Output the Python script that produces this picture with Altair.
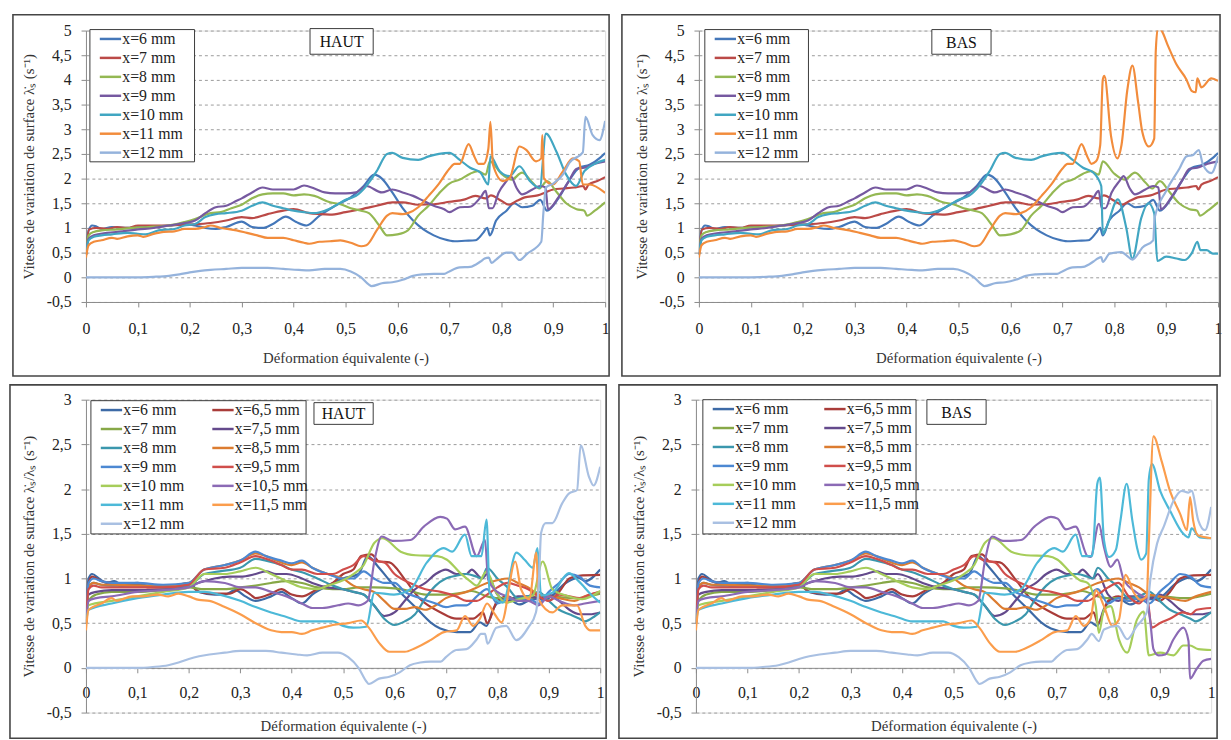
import altair as alt
import pandas as pd

# ---------------- axis ticks ----------------
XTICKS = [0, 0.1, 0.2, 0.3, 0.4, 0.5, 0.6, 0.7, 0.8, 0.9, 1]
YTICKS_TOP = [-0.5, 0, 0.5, 1, 1.5, 2, 2.5, 3, 3.5, 4, 4.5, 5]
YTICKS_BOT = [-0.5, 0, 0.5, 1, 1.5, 2, 2.5, 3]

# ---------------- series names / colours ----------------
TOP_NAMES = ["x=6 mm", "x=7 mm", "x=8 mm", "x=9 mm", "x=10 mm", "x=11 mm", "x=12 mm"]
TOP_COLORS = ["#4477b9", "#bb4a47", "#94b853", "#7659a0", "#41a6c2", "#f28c3c", "#95b3dc"]
BOT_NAMES = ["x=6 mm", "x=6,5 mm", "x=7 mm", "x=7,5 mm", "x=8 mm", "x=8,5 mm", "x=9 mm",
             "x=9,5 mm", "x=10 mm", "x=10,5 mm", "x=11 mm", "x=11,5 mm", "x=12 mm"]
BOT_COLORS = ["#3d6aa6", "#a93c39", "#87a847", "#644a8c", "#3b97ad", "#dc7c30", "#4c88d2",
              "#d04e4b", "#a6cd5a", "#8b6ab5", "#4db9d8", "#fb9d4c", "#a9c0e2"]

# ---------------- top panels (lambda_s rate) : [deformation, value] ----------------
T6 = [[0, .45], [.005, .95], [.012, 1.05], [.02, 1.03], [.03, .98], [.05, 1.02], [.08, 1.0], [.1, 1.02],
      [.13, 1.03], [.16, 1.05], [.19, 1.08], [.21, 1.05], [.23, 1.0], [.25, .98], [.27, 1.02], [.3, 1.13],
      [.32, 1.02], [.34, 1.0], [.36, 1.08], [.385, 1.23], [.405, 1.12], [.425, 1.05], [.45, 1.25],
      [.48, 1.45], [.51, 1.62], [.535, 1.85], [.555, 2.08], [.57, 2.0], [.59, 1.72], [.61, 1.4], [.63, 1.15],
      [.65, .97], [.67, .85], [.69, .77], [.71, .73], [.73, .74], [.75, .75], [.765, .9], [.773, 1.0],
      [.778, .85], [.79, 1.15], [.81, 1.35], [.825, 1.5], [.84, 1.42], [.86, 1.45], [.875, 1.57],
      [.888, 1.35], [.91, 1.6], [.93, 1.95], [.95, 2.22], [.97, 2.28], [.99, 2.42], [1.0, 2.52]]
T7 = [[0, .45], [.006, .97], [.02, 1.0], [.04, .98], [.06, 1.02], [.08, 1.0], [.1, 1.05], [.15, 1.05],
      [.2, 1.07], [.24, 1.1], [.27, 1.15], [.3, 1.22], [.32, 1.2], [.35, 1.28], [.38, 1.35], [.4, 1.38],
      [.43, 1.3], [.45, 1.28], [.47, 1.27], [.5, 1.32], [.53, 1.38], [.56, 1.45], [.59, 1.52], [.61, 1.52],
      [.64, 1.47], [.67, 1.48], [.7, 1.53], [.73, 1.58], [.75, 1.65], [.77, 1.6], [.78, 1.66], [.8, 1.55],
      [.815, 1.47], [.83, 1.55], [.845, 1.62], [.87, 1.66], [.885, 1.72], [.9, 1.78], [.92, 1.8],
      [.94, 1.82], [.958, 1.85], [.962, 1.78], [.968, 1.88], [.985, 1.95], [1.0, 2.03]]
T8 = [[0, .45], [.005, .85], [.015, .92], [.03, .95], [.06, .97], [.09, 1.0], [.12, 1.02], [.16, 1.05],
      [.19, 1.12], [.21, 1.18], [.24, 1.3], [.26, 1.32], [.28, 1.4], [.3, 1.47], [.32, 1.6], [.34, 1.68],
      [.36, 1.7], [.38, 1.7], [.4, 1.66], [.42, 1.68], [.44, 1.65], [.47, 1.52], [.49, 1.48], [.51, 1.4],
      [.53, 1.35], [.545, 1.3], [.565, 1.05], [.58, .85], [.6, .87], [.62, .95], [.64, 1.25], [.66, 1.45],
      [.68, 1.7], [.7, 1.9], [.72, 1.98], [.74, 2.1], [.755, 2.15], [.77, 2.08], [.778, 2.35], [.8, 2.1],
      [.82, 1.98], [.84, 2.12], [.86, 1.92], [.873, 1.8], [.888, 1.95], [.905, 1.75], [.925, 1.5],
      [.945, 1.38], [.96, 1.35], [.965, 1.25], [.98, 1.35], [1.0, 1.52]]
T9 = [[0, .45], [.005, .78], [.015, .85], [.04, .9], [.07, .93], [.1, .97], [.13, 1.0], [.16, 1.05],
      [.19, 1.1], [.21, 1.15], [.23, 1.3], [.25, 1.42], [.27, 1.45], [.29, 1.55], [.3, 1.6], [.32, 1.72],
      [.34, 1.82], [.36, 1.78], [.38, 1.78], [.4, 1.78], [.42, 1.86], [.44, 1.8], [.46, 1.72], [.48, 1.7],
      [.5, 1.7], [.52, 1.72], [.54, 1.85], [.57, 1.72], [.59, 1.78], [.61, 1.72], [.63, 1.65], [.65, 1.55],
      [.67, 1.45], [.69, 1.38], [.7, 1.32], [.72, 1.42], [.74, 1.43], [.76, 1.62], [.77, 1.75], [.776, 1.4],
      [.783, 1.4], [.795, 1.72], [.81, 1.95], [.818, 2.05], [.83, 1.8], [.84, 1.68], [.86, 1.78],
      [.875, 1.85], [.885, 1.82], [.89, 1.38], [.91, 1.62], [.93, 1.95], [.945, 2.2], [.96, 2.22],
      [.98, 2.3], [1.0, 2.35]]
T10 = [[0, .45], [.005, .75], [.015, .82], [.03, .85], [.05, .87], [.08, .9], [.1, .88], [.115, .87],
       [.14, .95], [.17, .98], [.19, 1.05], [.21, 1.08], [.23, 1.22], [.25, 1.28], [.27, 1.3], [.3, 1.35],
       [.32, 1.45], [.34, 1.52], [.36, 1.45], [.38, 1.4], [.4, 1.35], [.42, 1.32], [.44, 1.3], [.46, 1.35],
       [.48, 1.45], [.5, 1.57], [.52, 1.65], [.54, 1.85], [.56, 2.15], [.58, 2.5], [.59, 2.52], [.61, 2.42],
       [.64, 2.38], [.66, 2.45], [.68, 2.5], [.7, 2.52], [.72, 2.38], [.74, 2.22], [.76, 2.12]]
T10_HAUT = [[.775, 1.88], [.779, 2.45], [.797, 2.15], [.816, 2.05], [.835, 2.25], [.855, 1.95],
            [.874, 1.81], [.886, 2.91], [.906, 2.55], [.925, 2.08], [.944, 1.85], [.96, 2.15],
            [.982, 2.31], [1.0, 2.38]]
T10_BAS = [[.775, 1.85], [.778, .88], [.785, 1.01], [.807, 1.58], [.823, 1.01], [.835, .38],
           [.852, 1.2], [.866, 1.5], [.877, 1.3], [.883, .33], [.9, .42], [.92, .38], [.935, .35],
           [.95, .5], [.96, .72], [.966, .55], [.978, .55], [.99, .48], [1.0, .48]]
T11 = [[0, .4], [.005, .65], [.015, .72], [.03, .75], [.05, .8], [.06, .78], [.08, .83], [.1, .85],
       [.11, .82], [.13, .88], [.15, .92], [.17, .93], [.19, .98], [.21, .98], [.23, 1.02], [.24, 1.05],
       [.26, 1.0], [.29, .95], [.31, .9], [.33, .85], [.35, .8], [.38, .8], [.4, .75], [.42, .7], [.43, .68],
       [.45, .72], [.47, .73], [.49, .75], [.51, .7], [.53, .63], [.54, .65], [.56, .95], [.58, 1.25],
       [.59, 1.3], [.61, 1.28], [.62, 1.3], [.64, 1.42], [.66, 1.65], [.68, 1.9], [.7, 2.2], [.71, 2.3],
       [.72, 2.3], [.737, 2.7], [.748, 2.45], [.756, 2.3]]
T11_HAUT = [[.766, 2.3], [.775, 2.6], [.779, 3.15], [.784, 2.28], [.803, 1.95], [.816, 2.01],
            [.835, 2.65], [.848, 2.58], [.867, 2.35], [.877, 2.41], [.879, 2.88], [.882, 2.01],
            [.899, 1.88], [.919, 2.15], [.938, 2.41], [.95, 2.35], [.957, 1.88], [.97, 1.88], [1.0, 1.71]]
T11_BAS = [[.765, 2.35], [.773, 2.68], [.778, 4.01], [.781, 4.08], [.794, 2.85], [.806, 2.41],
           [.814, 2.68], [.825, 3.78], [.835, 4.29], [.846, 3.55], [.854, 2.95], [.867, 2.65],
           [.877, 2.81], [.88, 4.58], [.884, 5.05], [.891, 5.0], [.904, 4.68], [.92, 4.31], [.939, 4.01],
           [.949, 3.78], [.957, 3.75], [.96, 4.03], [.968, 3.85], [.987, 4.03], [1.0, 3.98]]
T12 = [[0, 0], [.1, 0], [.13, .01], [.16, .03], [.18, .06], [.2, .1], [.22, .13], [.24, .15], [.27, .17],
       [.3, .19], [.35, .19], [.38, .17], [.41, .15], [.43, .14], [.46, .17], [.49, .17], [.51, .12],
       [.53, 0], [.545, -.15], [.55, -.18], [.57, -.12], [.59, -.1], [.61, -.05], [.63, .03], [.65, .06],
       [.67, .07], [.69, .07], [.7, .12], [.72, .2], [.74, .21], [.76, .32], [.768, .38]]
T12_HAUT = [[.776, .4], [.781, .29], [.79, .36], [.81, .5], [.82, .5], [.835, .35], [.85, .48],
            [.877, .72], [.881, 1.3], [.886, 1.82], [.9, 1.9], [.92, 2.1], [.931, 2.32], [.957, 2.53],
            [.962, 3.25], [.976, 2.88], [.989, 2.78], [1.0, 3.17]]
T12_BAS = [[.775, .41], [.778, .31], [.791, .48], [.814, .51], [.823, .45], [.835, .36], [.855, .61],
           [.875, .75], [.878, 1.21], [.9, 1.75], [.926, 2.21], [.939, 2.45], [.952, 2.48], [.963, 2.58],
           [.971, 2.28], [.987, 2.11], [1.0, 2.45]]

# ---------------- bottom panels (normalised rate) ----------------
B6 = [[0, .5], [.005, 1.0], [.012, 1.05], [.025, 1.0], [.04, .95], [.055, .97], [.07, .93], [.1, .95],
      [.12, .92], [.15, .92], [.18, .93], [.2, .95], [.22, .85], [.25, .82], [.27, .82], [.29, .87],
      [.31, .8], [.33, .75], [.36, .8], [.38, .85], [.4, .78], [.42, .72], [.44, .82], [.47, .92], [.5, 1.0],
      [.53, 1.05], [.548, 1.25], [.567, 1.14], [.59, .98], [.612, .84], [.644, .66], [.67, .51], [.689, .44],
      [.721, .4], [.747, .4], [.766, .51], [.779, .47], [.792, .66], [.817, .79], [.843, .71], [.869, .77],
      [.894, .77], [.933, .95], [.958, 1.01], [.971, .97], [1.0, 1.1]]
B65 = [[0, .5], [.005, .95], [.012, 1.02], [.03, .97], [.05, .95], [.07, .92], [.1, .93], [.12, .9],
       [.15, .9], [.18, .92], [.2, .93], [.22, .85], [.25, .83], [.28, .83], [.3, .88], [.32, .82], [.33, .78],
       [.36, .83], [.38, .88], [.4, .82], [.42, .8], [.45, .88], [.48, .95], [.5, 1.05], [.52, 1.1],
       [.535, 1.25], [.555, 1.27], [.57, 1.19], [.59, 1.18], [.62, .99], [.65, .77], [.69, .62], [.72, .55],
       [.753, .55], [.772, .62], [.78, .5], [.8, .75], [.82, .8], [.84, .75], [.86, .78], [.88, .8], [.9, .75],
       [.92, .85], [.94, 1.0], [.958, 1.03], [1.0, 1.04]]
B7 = [[0, .5], [.005, .75], [.02, .82], [.05, .85], [.1, .85], [.15, .87], [.2, .9], [.23, .88], [.27, .88],
      [.3, .9], [.33, .92], [.36, .95], [.39, .97], [.42, .95], [.45, .9], [.48, .88], [.5, .88], [.53, .9],
      [.56, .9], [.6, .89], [.63, .86], [.66, .82], [.7, .82], [.73, .84], [.75, .86], [.78, .8], [.8, .78],
      [.85, .78], [.9, .8], [.95, .78], [1.0, .83]]
B75 = [[0, .5], [.005, .82], [.02, .85], [.05, .87], [.1, .87], [.15, .88], [.2, .92], [.23, .97],
       [.25, 1.0], [.28, 1.02], [.3, 1.02], [.33, 1.05], [.35, 1.08], [.37, 1.05], [.39, 1.05], [.42, 1.0],
       [.44, .95], [.47, .9], [.5, .88], [.52, .85], [.54, .82], [.56, .7], [.58, .58], [.6, .62], [.62, .75],
       [.64, .88], [.66, .95], [.68, 1.05], [.7, 1.1], [.72, 1.05], [.74, 1.05], [.75, 1.1], [.77, 1.0],
       [.78, 1.05], [.8, .82], [.82, .75], [.84, .8], [.86, .8], [.88, .78], [.9, .82], [.92, .75],
       [.94, .65], [.96, .6], [.98, .6], [1.0, .62]]
B8 = [[0, .5], [.005, .9], [.015, .95], [.03, .93], [.05, .92], [.1, .92], [.15, .9], [.2, .92],
      [.23, 1.05], [.26, 1.08], [.3, 1.12], [.33, 1.22], [.35, 1.2], [.38, 1.15], [.4, 1.1], [.42, 1.07],
      [.45, 1.0], [.48, .92], [.5, .88], [.52, .85], [.54, .82], [.56, .7], [.58, .55], [.6, .48], [.62, .52],
      [.64, .6], [.66, .78], [.68, .92], [.7, 1.0], [.72, 1.03], [.74, 1.05], [.76, 1.02], [.77, 1.0],
      [.78, 1.12], [.8, 1.0], [.82, .9], [.84, .78], [.86, .8], [.88, .85], [.9, .75], [.92, .65],
      [.94, .6], [.96, .55], [.97, .52], [.99, .58], [1.0, .62]]
B85 = [[0, .5], [.005, .9], [.015, .95], [.03, .93], [.05, .93], [.1, .92], [.15, .92], [.2, .95],
       [.23, 1.1], [.27, 1.15], [.3, 1.2], [.33, 1.28], [.35, 1.25], [.37, 1.2], [.4, 1.15], [.42, 1.18],
       [.44, 1.12], [.47, 1.05], [.5, 1.0], [.52, .92], [.54, .88], [.56, .85], [.58, .75], [.6, .66],
       [.62, .66], [.64, .68], [.66, .65], [.68, .7], [.7, .78], [.72, .82], [.74, .85], [.76, .9],
       [.78, .95], [.8, .98], [.82, 1.0], [.84, .95], [.86, .9], [.88, .82], [.9, .8], [.92, .78],
       [.95, .75], [.97, .8], [1.0, .85]]
B9 = [[0, .5], [.005, .95], [.015, 1.0], [.03, .97], [.05, .95], [.1, .95], [.15, .93], [.2, .95],
      [.23, 1.1], [.27, 1.15], [.3, 1.2], [.33, 1.3], [.35, 1.25], [.38, 1.2], [.4, 1.17], [.42, 1.2],
      [.44, 1.12], [.47, 1.05], [.5, 1.0], [.52, 1.0], [.54, 1.08], [.56, 1.0], [.58, .95], [.6, .95],
      [.62, .85], [.65, .78], [.68, .72], [.7, .68], [.72, .7], [.74, .7], [.76, .8], [.78, .88], [.8, .72],
      [.82, .78], [.84, .75], [.86, .78], [.88, .72], [.9, .85], [.92, .95], [.94, 1.05], [.96, 1.02],
      [.98, .92], [1.0, .9]]
B95 = [[0, .5], [.005, .88], [.015, .92], [.03, .9], [.05, .9], [.1, .9], [.15, .9], [.2, .93], [.23, 1.1],
       [.27, 1.12], [.3, 1.18], [.33, 1.25], [.35, 1.22], [.38, 1.15], [.4, 1.1], [.42, 1.1], [.45, 1.05],
       [.48, 1.05], [.5, 1.1], [.52, 1.15], [.54, 1.25], [.56, 1.2], [.58, 1.18], [.6, 1.05], [.63, .95],
       [.66, .88], [.69, .85], [.72, .8], [.74, .75], [.76, .75]]
B95_HAUT = [[.78, .82], [.8, .9], [.82, .95], [.84, .92], [.86, .88], [.88, .8], [.9, .75], [.92, .82],
            [.94, .8], [.96, .78], [.98, .82], [1.0, .85]]
B95_BAS = [[.78, .82], [.8, .9], [.82, .95], [.84, .8], [.86, .72], [.875, .8], [.885, .45], [.9, .5],
           [.92, .55], [.945, .62], [.96, .6], [.972, .65], [1.0, .67]]
B10 = [[0, .5], [.005, .7], [.05, .75], [.1, .8], [.15, .85], [.2, .9], [.23, 1.05], [.27, 1.05],
       [.3, 1.08], [.33, 1.12], [.36, 1.05], [.39, .97], [.42, .9], [.45, .88], [.47, .92], [.5, .98],
       [.52, 1.05], [.54, 1.15], [.561, 1.4], [.577, 1.45], [.612, 1.3], [.641, 1.26], [.683, 1.25],
       [.702, 1.21], [.728, 1.06], [.745, .98]]
B10_HAUT = [[.76, .92], [.779, 1.08], [.798, .84], [.817, .73], [.843, .77], [.869, .81], [.888, 1.19],
            [.907, .88], [.933, .81], [.965, .77], [1.0, .86]]
B10_BAS = [[.76, .95], [.776, .69], [.782, .39], [.792, .65], [.805, .69], [.821, .32], [.837, .17],
           [.856, .54], [.869, .63], [.879, .14], [.901, .17], [.927, .14], [.946, .25], [.959, .25],
           [.975, .21], [1.0, .2]]
B105 = [[0, .5], [.005, .75], [.02, .78], [.05, .8], [.1, .85], [.15, .87], [.2, .9], [.23, .97],
        [.27, .95], [.3, .9], [.33, .9], [.36, .85], [.39, .8], [.42, .72], [.44, .67], [.46, .67],
        [.49, .7], [.51, .72], [.53, .7], [.548, .75], [.561, 1.2], [.575, 1.47], [.596, 1.42],
        [.631, 1.43], [.657, 1.58], [.689, 1.69], [.702, 1.67], [.718, 1.55], [.737, 1.58], [.76, 1.25]]
B105_HAUT = [[.776, 1.43], [.782, .99], [.8, .85], [.82, .8], [.84, .75], [.86, .75], [.88, .7],
             [.9, .8], [.92, .75], [.95, .7], [.97, .72], [1.0, .75]]
B105_BAS = [[.766, 1.24], [.782, 1.61], [.792, 1.35], [.805, 1.13], [.818, 1.21], [.83, .99],
            [.856, .84], [.875, .76], [.882, .51], [.888, .21], [.898, .14], [.911, .15], [.927, .32],
            [.946, .45], [.956, .3], [.959, -.12], [.972, -.01], [.985, .08], [1.0, .1]]
B11 = [[0, .5], [.005, .65], [.05, .72], [.1, .78], [.15, .82], [.2, .85], [.23, .85], [.26, .82],
       [.3, .75], [.33, .68], [.36, .62], [.39, .57], [.42, .52], [.45, .52], [.48, .52], [.5, .47],
       [.52, .45], [.545, .46], [.561, .84], [.599, .82], [.631, .88], [.663, 1.18], [.696, 1.34],
       [.712, 1.3], [.737, 1.49], [.75, 1.25], [.769, 1.25]]
B11_HAUT = [[.779, 1.66], [.785, .84], [.811, .73], [.837, 1.29], [.853, 1.21], [.869, 1.12],
            [.878, 1.34], [.885, .81], [.907, .84], [.939, 1.06], [.958, .97], [.984, .81], [1.0, .73]]
B11_BAS = [[.779, 2.06], [.784, 2.13], [.792, 1.43], [.802, 1.24], [.815, 1.32], [.824, 1.65],
           [.836, 2.06], [.847, 1.65], [.856, 1.35], [.864, 1.21], [.874, 1.28], [.879, 2.11],
           [.885, 2.28], [.901, 1.98], [.92, 1.76], [.946, 1.5], [.956, 1.46], [.962, 1.56],
           [.978, 1.46], [1.0, 1.45]]
B115 = [[0, .42], [.005, .65], [.03, .72], [.05, .78], [.06, .75], [.09, .8], [.11, .8], [.14, .82],
        [.16, .8], [.18, .83], [.2, .8], [.22, .76], [.24, .75], [.27, .68], [.3, .6], [.33, .5], [.36, .42],
        [.38, .4], [.4, .4], [.42, .38], [.44, .42], [.46, .45], [.48, .48], [.51, .5], [.535, .53],
        [.55, .45], [.57, .28], [.59, .18], [.62, .18], [.64, .22], [.67, .31], [.696, .4], [.721, .42],
        [.737, .58], [.753, .47], [.766, .55]]
B115_HAUT = [[.78, .72], [.795, .6], [.808, .51], [.835, 1.19], [.846, .88], [.862, .77], [.876, 1.29],
             [.88, .77], [.907, .62], [.926, .7], [.955, .7], [.971, .47], [.981, .42], [1.0, .42]]
B115_BAS = [[.776, .87], [.792, .69], [.808, .47], [.821, .54], [.834, 1.04], [.85, .84], [.863, .76],
            [.875, .8], [.879, 1.39], [.888, 2.59], [.904, 2.31], [.92, 1.98], [.94, 1.72], [.953, 1.54],
            [.959, 1.91], [.965, 1.65], [.975, 1.48], [1.0, 1.45]]
B12_HAUT = [[.776, .38], [.781, .27], [.798, .45], [.817, .47], [.837, .31], [.86, .45], [.875, .62],
            [.881, .99], [.885, 1.51], [.894, 1.62], [.907, 1.62], [.926, 1.84], [.939, 1.95],
            [.955, 1.99], [.962, 2.49], [.978, 2.14], [.987, 2.04], [1.0, 2.25]]
B12_BAS = [[.782, .3], [.792, .43], [.818, .47], [.837, .32], [.856, .47], [.875, .62], [.882, .99],
           [.895, 1.39], [.908, 1.58], [.927, 1.87], [.943, 1.98], [.956, 1.96], [.962, 1.98],
           [.975, 1.65], [.988, 1.54], [1.0, 1.8]]

TOP_YTITLE = "Vitesse de variation de surface  λ̇ₛ  (s⁻¹)"
BOT_YTITLE = "Vitesse de variation de surface  λ̇ₛ/λₛ  (s⁻¹)"
XTITLE = "Déformation équivalente (-)"

FONT = "Liberation Serif"
LABEL_EXPR = "replace(toString(datum.value), '.', ',')"

# legend of the lower panels is filled column by column: integers first, then halves
BOT_LEG_ORDER = BOT_NAMES[0::2] + BOT_NAMES[1::2]
BOT_LEG_COLORS = [dict(zip(BOT_NAMES, BOT_COLORS))[n] for n in BOT_LEG_ORDER]


def to_df(names, series):
    rows = []
    for name, pts in zip(names, series):
        for k, (x, y) in enumerate(pts):
            rows.append({"serie": name, "eps": x, "v": y, "k": k})
    return pd.DataFrame(rows)


top_haut = to_df(TOP_NAMES, [T6, T7, T8, T9, T10 + T10_HAUT, T11 + T11_HAUT, T12 + T12_HAUT])
top_bas = to_df(TOP_NAMES, [T6, T7, T8, T9, T10 + T10_BAS, T11 + T11_BAS, T12 + T12_BAS])
bot_haut = to_df(BOT_NAMES, [B6, B65, B7, B75, B8, B85, B9, B95 + B95_HAUT, B10 + B10_HAUT,
                             B105 + B105_HAUT, B11 + B11_HAUT, B115 + B115_HAUT, T12 + B12_HAUT])
bot_bas = to_df(BOT_NAMES, [B6, B65, B7, B75, B8, B85, B9, B95 + B95_BAS, B10 + B10_BAS,
                            B105 + B105_BAS, B11 + B11_BAS, B115 + B115_BAS, T12 + B12_BAS])

ONE = pd.DataFrame({"a": [0]})


def panel(df, names, colors, ydom, yticks, w, h, xoff, frame, legbox, ncols, colpad,
          label, labbox, ytitle, xlabpad, xtitley):
    xaxis = alt.Axis(values=XTICKS, labelExpr=LABEL_EXPR, grid=False, domainColor="#8a8a8a",
                     tickColor="#8a8a8a", tickSize=5, labelPadding=xlabpad, labelFontSize=16,
                     labelColor="#222222", labelFont=FONT, labelFlush=False, labelOverlap=False,
                     title=XTITLE, titleFont=FONT, titleFontSize=15, titleFontWeight="normal",
                     titleColor="#333333", titleY=xtitley, titleBaseline="middle", offset=xoff)
    yaxis = alt.Axis(values=yticks, labelExpr=LABEL_EXPR, grid=True, gridDash=[3, 3],
                     gridColor="#9a9a9a", domainColor="#8a8a8a", tickColor="#8a8a8a", tickSize=5,
                     labelPadding=10, labelFontSize=16, labelColor="#222222", labelFont=FONT,
                     labelOverlap=False, title=ytitle, titleFont=FONT, titleFontSize=15,
                     titleFontWeight="normal", titleColor="#333333", titleX=-58, titleY=h / 2,
                     titleAngle=270, titleAlign="center", titleBaseline="middle")
    legend = alt.Legend(title=None, orient="none", legendX=legbox[0] + 12.8, legendY=legbox[2] + 1.5,
                        direction="vertical", columns=ncols, columnPadding=colpad,
                        symbolType="M-1.6,0L1.6,0", symbolSize=182, symbolStrokeWidth=2.5,
                        labelFont=FONT, labelFontSize=16, labelColor="#222222", labelOffset=4,
                        rowPadding=3.2, padding=0, labelLimit=200)
    lines = alt.Chart(df).mark_line(strokeWidth=2.2, interpolate="monotone", clip=True).encode(
        x=alt.X("eps:Q", scale=alt.Scale(domain=[0, 1], nice=False, zero=False), axis=xaxis),
        y=alt.Y("v:Q", scale=alt.Scale(domain=ydom, nice=False, zero=False), axis=yaxis),
        color=alt.Color("serie:N", scale=alt.Scale(domain=names, range=colors), legend=legend,
                        sort=names),
        order=alt.Order("k:Q"),
    )
    frame_mark = alt.Chart(ONE).mark_rect(fillOpacity=0, stroke="#454545", strokeWidth=1.6).encode(
        x=alt.value(frame[0]), x2=alt.value(frame[1]), y=alt.value(frame[2]), y2=alt.value(frame[3]))
    leg_mark = alt.Chart(ONE).mark_rect(fill="white", stroke="#3a3a3a", strokeWidth=1).encode(
        x=alt.value(legbox[0]), x2=alt.value(legbox[1]), y=alt.value(legbox[2]), y2=alt.value(legbox[3]))
    lab_mark = alt.Chart(ONE).mark_rect(fill="white", stroke="#3a3a3a", strokeWidth=1).encode(
        x=alt.value(labbox[0]), x2=alt.value(labbox[1]), y=alt.value(labbox[2]), y2=alt.value(labbox[3]))
    lab_text = alt.Chart(ONE).mark_text(text=label, font=FONT, fontSize=16, color="#111111").encode(
        x=alt.value((labbox[0] + labbox[1]) / 2), y=alt.value((labbox[2] + labbox[3]) / 2 + 1))
    return alt.layer(frame_mark, leg_mark, lines, lab_mark, lab_text).properties(width=w, height=h)


p_tl = panel(top_haut, TOP_NAMES, TOP_COLORS, [-0.5, 5], YTICKS_TOP, 526, 275, 0,
             (-74, 530, -16, 350), (4, 110, -1, 133), 1, 10, "HAUT", (227, 291, -2, 24),
             TOP_YTITLE, 14, 56)
p_tr = panel(top_bas, TOP_NAMES, TOP_COLORS, [-0.5, 5], YTICKS_TOP, 526, 275, 0,
             (-78, 528, -16, 350), (6, 111, -1, 133), 1, 10, "BAS", (236, 296, -1, 24),
             TOP_YTITLE, 14, 56)
p_bl = panel(bot_haut, BOT_LEG_ORDER, BOT_LEG_COLORS, [-0.5, 3], YTICKS_BOT, 521, 317, -45.3,
             (-77, 527, -15, 343), (5, 223, 1, 136), 2, 23, "HAUT", (231, 291, 3, 25),
             BOT_YTITLE, 12, 58)
p_br = panel(bot_bas, BOT_LEG_ORDER, BOT_LEG_COLORS, [-0.5, 3], YTICKS_BOT, 522, 317, -45.3,
             (-78, 528, -15, 343), (7, 223, 0, 136), 2, 23, "BAS", (234, 294, 0, 25),
             BOT_YTITLE, 12, 58)


def row(a, b):
    return alt.hconcat(a, b, spacing=9).resolve_scale(
        x="independent", y="independent", color="independent").resolve_axis(
        x="independent", y="independent").resolve_legend(color="independent")


chart = alt.vconcat(row(p_tl, p_tr), row(p_bl, p_br), spacing=5, padding=0).resolve_scale(
    x="independent", y="independent", color="independent").resolve_axis(
    x="independent", y="independent").resolve_legend(color="independent").configure_view(
    strokeWidth=0).configure(font=FONT, background="white", padding=0)

chart.save("out.html", embed_options={"renderer": "svg", "actions": False})
